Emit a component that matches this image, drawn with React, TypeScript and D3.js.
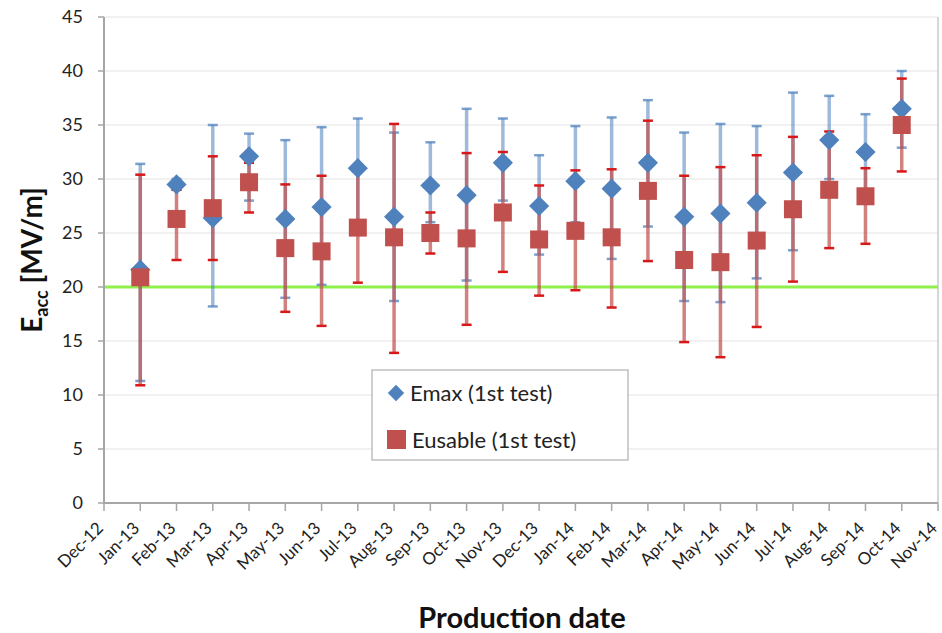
import { useEffect } from "react";
import * as d3 from "d3";

const months = [
  "Dec-12", "Jan-13", "Feb-13", "Mar-13", "Apr-13", "May-13", "Jun-13", "Jul-13",
  "Aug-13", "Sep-13", "Oct-13", "Nov-13", "Dec-13", "Jan-14", "Feb-14", "Mar-14",
  "Apr-14", "May-14", "Jun-14", "Jul-14", "Aug-14", "Sep-14", "Oct-14", "Nov-14",
];

// measured months: Jan-13 .. Oct-14
const dataMonths = months.slice(1, 23);

const emax = [21.6, 29.5, 26.4, 32.1, 26.3, 27.4, 31.0, 26.5, 29.4, 28.5, 31.5, 27.5, 29.8, 29.1, 31.5, 26.5, 26.8, 27.8, 30.6, 33.6, 32.5, 36.5];
const emaxHi = [31.4, 30.0, 35.0, 34.2, 33.6, 34.8, 35.6, 34.3, 33.4, 36.5, 35.6, 32.2, 34.9, 35.7, 37.3, 34.3, 35.1, 34.9, 38.0, 37.7, 36.0, 40.0];
const emaxLo = [11.3, 29.0, 18.2, 28.0, 19.0, 20.2, 25.0, 18.7, 26.0, 20.6, 28.0, 23.0, 26.0, 22.6, 25.6, 18.7, 18.6, 20.8, 23.4, 30.0, 29.0, 32.9];

const eusable = [20.9, 26.3, 27.3, 29.7, 23.6, 23.3, 25.5, 24.6, 25.0, 24.5, 26.9, 24.4, 25.2, 24.6, 28.9, 22.5, 22.3, 24.3, 27.2, 29.0, 28.4, 35.0];
const eusableHi = [30.4, 29.0, 32.1, 31.5, 29.5, 30.3, 31.0, 35.1, 26.9, 32.4, 32.5, 29.4, 30.8, 30.9, 35.4, 30.3, 31.1, 32.2, 33.9, 34.4, 31.0, 39.3];
const eusableLo = [10.9, 22.5, 22.5, 26.9, 17.7, 16.4, 20.4, 13.9, 23.1, 16.5, 21.4, 19.2, 19.7, 18.1, 22.4, 14.9, 13.5, 16.3, 20.5, 23.6, 24.0, 30.7];

const yTicks = [0, 5, 10, 15, 20, 25, 30, 35, 40, 45];
const threshold = 20;

const W = 942;
const H = 633;
const margin = { left: 104, right: 4, top: 17, bottom: 130 };

export default function App() {
  useEffect(() => {
    document.body.style.margin = "0";
  }, []);

  const x = d3.scalePoint<string>().domain(months).range([margin.left, W - margin.right]);
  const y = d3.scaleLinear().domain([0, 45]).range([H - margin.bottom, margin.top]);
  const font = "Lato, 'Open Sans', sans-serif";
  const x0 = margin.left;
  const x1 = W - margin.right;

  const blueBar = "rgba(79,129,189,0.55)";
  const blueCap = "rgba(79,129,189,0.75)";
  const redBar = "rgba(192,80,77,0.72)";
  const redCap = "#d81818";

  const diamond = d3.symbol(d3.symbolDiamond2, 260);

  return (
    <svg width={W} height={H} style={{ display: "block", background: "#fff" }}>
      {/* gridlines */}
      {yTicks.map((t) => (
        <line key={"g" + t} x1={x0} x2={x1} y1={y(t)} y2={y(t)} stroke="#ececec" strokeWidth={1.5} />
      ))}
      {/* right border */}
      <line x1={x1} x2={x1} y1={y(45)} y2={y(0)} stroke="#c8c8c8" strokeWidth={1.5} />

      {/* threshold */}
      <line x1={x0} x2={x1} y1={y(threshold)} y2={y(threshold)} stroke="#8ef04a" strokeWidth={3} />

      {/* Emax error bars */}
      {dataMonths.map((m, i) => (
        <g key={"eb" + m}>
          <line x1={x(m)} x2={x(m)} y1={y(emaxLo[i])} y2={y(emaxHi[i])} stroke={blueBar} strokeWidth={3.5} />
          <line x1={x(m)! - 5} x2={x(m)! + 5} y1={y(emaxHi[i])} y2={y(emaxHi[i])} stroke={blueCap} strokeWidth={2.5} />
          <line x1={x(m)! - 5} x2={x(m)! + 5} y1={y(emaxLo[i])} y2={y(emaxLo[i])} stroke={blueCap} strokeWidth={2.5} />
        </g>
      ))}
      {/* Eusable error bars */}
      {dataMonths.map((m, i) => (
        <g key={"er" + m}>
          <line x1={x(m)} x2={x(m)} y1={y(eusableLo[i])} y2={y(eusableHi[i])} stroke={redBar} strokeWidth={3.5} />
          <line x1={x(m)! - 5} x2={x(m)! + 5} y1={y(eusableHi[i])} y2={y(eusableHi[i])} stroke={redCap} strokeWidth={2.5} />
          <line x1={x(m)! - 5} x2={x(m)! + 5} y1={y(eusableLo[i])} y2={y(eusableLo[i])} stroke={redCap} strokeWidth={2.5} />
        </g>
      ))}
      {/* Emax markers */}
      {dataMonths.map((m, i) => (
        <path key={"dm" + m} d={diamond()!} transform={`translate(${x(m)},${y(emax[i])})`} fill="#4f81bd" />
      ))}
      {/* Eusable markers */}
      {dataMonths.map((m, i) => (
        <rect key={"sq" + m} x={x(m)! - 9} y={y(eusable[i]) - 9} width={18} height={18} fill="#c0504d" />
      ))}

      {/* y axis */}
      <line x1={x0} x2={x0} y1={y(45)} y2={y(0)} stroke="#a6a6a6" strokeWidth={2} />
      {yTicks.map((t) => (
        <g key={"yt" + t}>
          <line x1={x0 - 6} x2={x0} y1={y(t)} y2={y(t)} stroke="#a6a6a6" strokeWidth={1.5} />
          <text x={x0 - 21} y={y(t)} dy="0.35em" textAnchor="end" fontFamily={font} fontSize={18} fill="#222">
            {t}
          </text>
        </g>
      ))}

      {/* x axis */}
      <line x1={x0} x2={x1} y1={y(0)} y2={y(0)} stroke="#a6a6a6" strokeWidth={2} />
      {months.map((m) => (
        <g key={"xt" + m}>
          <line x1={x(m)} x2={x(m)} y1={y(0)} y2={y(0) + 8} stroke="#a6a6a6" strokeWidth={1.5} />
          <text
            transform={`translate(${x(m)! - 4},${y(0) + 22}) rotate(-45)`}
            textAnchor="end"
            dy="0.35em"
            fontFamily={font}
            fontSize={17}
            fill="#222"
          >
            {m}
          </text>
        </g>
      ))}

      {/* axis titles */}
      <text x={522} y={628} textAnchor="middle" fontFamily={font} fontWeight="bold" fontSize={29} fill="#111">
        Production date
      </text>
      <text
        transform={`translate(42,${260}) rotate(-90)`}
        textAnchor="middle"
        fontFamily={font}
        fontWeight="bold"
        fontSize={28}
        fill="#111"
      >
        E<tspan fontSize={18} dy={6}>acc</tspan>
        <tspan dy={-6}> [MV/m]</tspan>
      </text>

      {/* legend */}
      <rect x={372} y={370} width={256} height={90} fill="#fff" stroke="#b0b0b0" strokeWidth={1.2} />
      <path d={d3.symbol(d3.symbolDiamond2, 170)()!} transform="translate(396,393)" fill="#4f81bd" />
      <text x={410} y={393} dy="0.35em" fontFamily={font} fontSize={22} fill="#222">
        Emax (1st test)
      </text>
      <rect x={387} y={430} width={19} height={19} fill="#c0504d" />
      <text x={412} y={440} dy="0.35em" fontFamily={font} fontSize={22} fill="#222">
        Eusable (1st test)
      </text>
    </svg>
  );
}
